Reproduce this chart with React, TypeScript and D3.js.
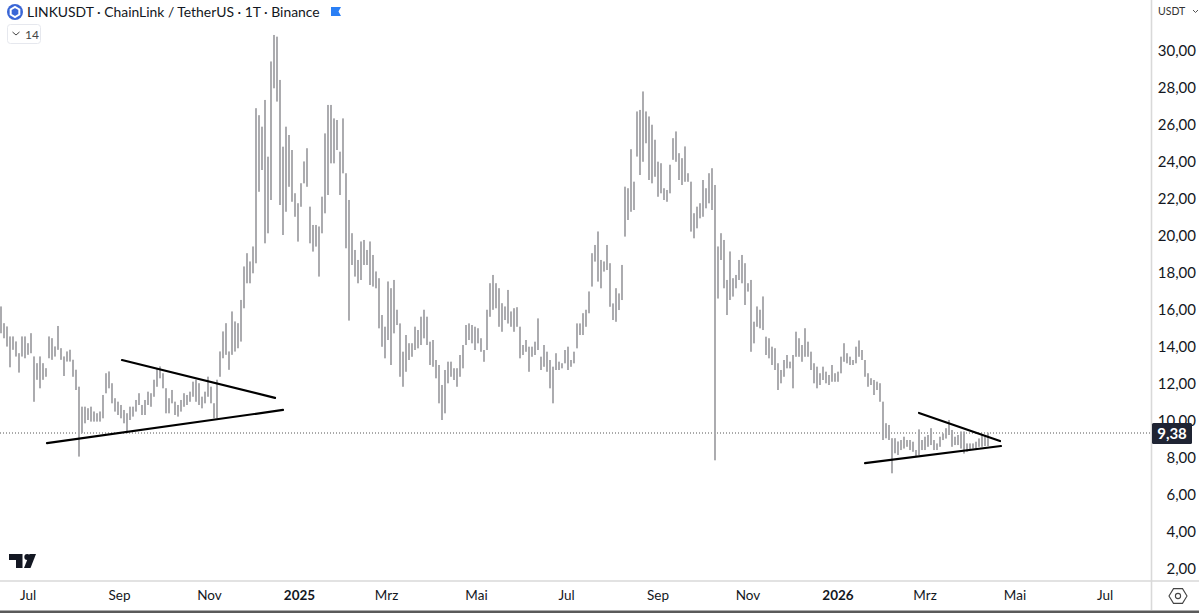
import * as d3 from 'd3'

const WIDTH = 1199
const HEIGHT = 613
const PLOT_RIGHT = 1151.5
const AXIS_TOP = 581

// daily-ish high/low pairs, oldest first
const highs = [
  16.16, 15.26, 15.08, 14.54, 14.54, 14.27, 13.64, 14.54, 14.54, 14.18, 14.72, 13.46, 13.1, 13.46, 13.1, 12.83, 14.54, 14.45, 14.0, 15.11,
  13.91, 13.46, 13.73, 13.82, 13.28, 12.74, 11.83, 10.75, 10.75, 10.66, 10.75, 10.48, 10.39, 10.48, 11.38, 12.55, 12.65, 12.01, 11.2, 11.02,
  10.84, 10.57, 10.39, 10.75, 10.75, 11.11, 11.47, 10.84, 11.11, 11.56, 11.47, 12.2, 12.83, 12.92, 12.55, 11.74, 11.2, 11.65, 11.02, 10.84,
  11.11, 11.47, 11.38, 11.56, 12.1, 12.2, 12.01, 11.29, 11.56, 12.37, 11.83, 10.93, 12.2, 13.73, 14.81, 15.26, 13.73, 15.89, 15.35, 15.26,
  16.52, 18.32, 19.04, 18.59, 19.4, 26.88, 26.5, 25.88, 27.33, 24.26, 29.4, 30.84, 30.75, 28.41, 24.8, 25.88, 25.43, 24.62, 22.28, 21.74,
  22.82, 24.0, 24.71, 21.56, 20.57, 20.57, 20.48, 22.1, 25.52, 27.06, 27.06, 26.33, 26.24, 24.53, 26.33, 23.36, 21.92, 20.12, 19.22, 18.68,
  19.67, 19.76, 19.22, 19.67, 18.95, 18.05, 17.69, 15.7, 15.07, 17.51, 17.15, 17.6, 15.98, 15.25, 13.72, 14.62, 14.17, 14.17, 15.07, 14.89,
  15.61, 15.98, 15.61, 14.26, 14.35, 13.27, 13.0, 11.92, 12.73, 13.18, 13.18, 12.82, 12.82, 13.54, 14.08, 15.16, 15.25, 15.16, 15.07, 14.98,
  14.44, 13.81, 15.98, 17.42, 17.87, 17.42, 17.15, 16.34, 16.16, 17.06, 15.89, 16.07, 16.12, 15.07, 14.08, 14.35, 13.99, 13.99, 14.26, 15.52,
  13.45, 14.08, 13.72, 13.27, 12.91, 13.63, 13.18, 13.09, 13.81, 13.99, 13.27, 13.72, 15.25, 15.25, 15.8, 15.98, 16.97, 19.04, 19.49, 20.21,
  18.68, 18.59, 19.49, 18.5, 16.33, 17.15, 16.87, 18.41, 22.64, 22.55, 24.66, 22.91, 26.7, 26.79, 27.78, 26.7, 26.43, 25.98, 25.17, 23.99,
  23.9, 22.55, 22.46, 23.82, 25.26, 25.62, 24.45, 24.18, 24.81, 23.36, 22.91, 21.2, 21.56, 21.74, 23.0, 22.55, 23.36, 23.63, 22.73, 19.4,
  20.12, 19.76, 17.6, 19.13, 17.69, 17.87, 18.68, 18.95, 18.5, 17.42, 17.6, 15.34, 16.16, 15.98, 16.7, 14.53, 14.44, 13.99, 13.9, 13.09,
  12.73, 13.27, 13.54, 13.18, 13.54, 14.8, 14.44, 14.08, 14.98, 14.26, 13.72, 13.09, 12.91, 12.55, 12.91, 12.64, 12.46, 13.0, 12.55, 12.64,
  13.45, 14.17, 13.63, 13.45, 13.27, 13.99, 14.32, 13.81, 13.27, 12.55, 12.28, 12.19, 12.1, 12.01, 11.02, 9.85, 9.76, 9.04, 9.04, 8.86,
  8.94, 9.12, 8.94, 8.94, 8.85, 8.4, 9.52, 8.94, 9.12, 9.22, 9.58, 8.94, 8.76, 9.12, 9.3, 9.58, 10.03, 9.49, 9.12, 9.22,
  9.4, 9.4, 8.76, 8.76, 8.76, 8.85, 9.03, 9.22, 9.16, 9.34,
]

const lows = [
  14.72, 14.45, 14.0, 12.88, 13.82, 13.46, 12.59, 13.46, 13.37, 13.55, 13.64, 11.02, 12.2, 11.74, 12.2, 12.37, 13.37, 13.28, 13.46, 13.82,
  13.28, 12.41, 13.19, 13.19, 12.37, 11.65, 8.05, 9.31, 9.85, 10.03, 9.94, 9.94, 9.94, 9.94, 10.12, 11.47, 11.74, 10.93, 10.48, 10.3,
  10.12, 9.85, 9.31, 10.03, 10.21, 10.48, 10.84, 10.3, 10.3, 10.84, 10.75, 11.29, 11.83, 12.28, 11.74, 10.39, 10.39, 10.93, 10.3, 10.21,
  10.48, 10.75, 10.84, 11.02, 11.29, 11.02, 10.84, 10.66, 10.93, 11.29, 10.93, 10.12, 10.12, 12.37, 13.37, 13.55, 12.74, 13.55, 13.73, 13.91,
  14.27, 16.07, 17.42, 17.42, 17.96, 18.5, 22.37, 23.54, 19.58, 20.12, 21.92, 27.96, 27.24, 21.65, 20.03, 21.29, 22.64, 21.83, 21.02, 19.67,
  21.56, 22.82, 22.64, 19.58, 19.13, 19.4, 17.78, 20.12, 21.2, 22.19, 23.9, 23.9, 24.62, 22.19, 23.36, 19.31, 15.4, 18.41, 17.78, 17.42,
  17.6, 18.41, 18.41, 17.33, 17.24, 17.15, 14.98, 13.99, 13.36, 14.35, 13.0, 14.71, 15.16, 12.37, 11.83, 12.64, 13.27, 13.45, 13.81, 13.9,
  14.08, 14.44, 14.08, 13.0, 12.91, 12.28, 10.93, 10.03, 10.39, 12.01, 12.37, 12.19, 11.83, 12.37, 12.82, 14.08, 14.35, 14.17, 13.81, 14.17,
  13.72, 13.18, 13.81, 15.61, 15.98, 16.07, 15.07, 14.8, 15.43, 15.25, 15.07, 14.8, 15.07, 13.36, 13.54, 13.72, 12.64, 13.45, 13.54, 13.81,
  12.73, 12.91, 12.64, 11.74, 10.93, 12.73, 12.73, 12.82, 13.09, 12.73, 12.91, 13.09, 13.9, 14.62, 14.62, 15.07, 15.8, 17.24, 18.59, 17.51,
  17.15, 18.05, 18.14, 16.15, 15.43, 15.34, 15.97, 16.51, 19.94, 20.84, 21.29, 21.38, 24.27, 23.27, 23.99, 24.99, 23.0, 22.82, 23.18, 22.1,
  22.28, 21.92, 21.83, 22.28, 24.09, 23.99, 23.0, 22.73, 22.91, 22.91, 20.21, 19.85, 20.39, 20.93, 21.02, 21.47, 21.74, 21.38, 7.85, 16.6,
  18.68, 17.15, 15.7, 16.52, 16.7, 17.15, 17.6, 17.42, 16.25, 16.97, 13.72, 14.17, 15.07, 14.98, 14.89, 13.54, 13.36, 13.0, 12.73, 11.65,
  12.01, 12.37, 12.82, 12.82, 11.74, 13.45, 13.45, 13.18, 13.45, 13.45, 12.73, 12.01, 11.74, 11.92, 12.19, 12.01, 11.92, 12.1, 12.1, 12.1,
  12.55, 13.18, 13.09, 13.0, 13.0, 13.09, 13.45, 13.27, 12.37, 11.83, 11.92, 11.38, 11.65, 11.02, 8.95, 9.04, 8.95, 7.15, 8.23, 8.14,
  8.4, 8.49, 8.58, 8.4, 8.31, 8.04, 8.13, 8.4, 8.4, 8.58, 8.67, 8.4, 8.4, 8.58, 8.94, 9.03, 9.22, 8.58, 8.67, 8.67,
  8.49, 8.22, 8.31, 8.4, 8.49, 8.49, 8.58, 8.58, 8.62, 8.62,
]

const lastPrice = 9.38
const priceTicks = [30, 28, 26, 24, 22, 20, 18, 16, 14, 12, 10, 8, 6, 4, 2]

const timeLabels = ['Jul', 'Sep', 'Nov', '2025', 'Mrz', 'Mai', 'Jul', 'Sep', 'Nov', '2026', 'Mrz', 'Mai', 'Jul']
const timeDates = [
  '2024-07-01', '2024-09-01', '2024-11-01', '2025-01-01', '2025-03-01', '2025-05-01', '2025-07-01',
  '2025-09-01', '2025-11-01', '2026-01-01', '2026-03-01', '2026-05-01', '2026-07-01',
]

// hand drawn trendlines: [bar index, price] at each end
const trendStarts = [[15.33, 8.78], [40.33, 13.27], [288, 7.7], [306, 10.41]]
const trendEnds = [[94, 10.57], [91.33, 11.22], [333.33, 8.62], [333, 8.89]]

const x = d3.scaleLinear().domain([0, highs.length - 1]).range([1, 988])
const y = d3.scaleLinear().domain([30, 2]).range([50.5, 568.5])
const xTime = d3.scaleUtc()
  .domain([new Date('2024-07-01'), new Date('2026-07-01')])
  .range([28, 1105])

const comma = (v: number) => v.toFixed(2).replace('.', ',')
const UI_FONT = 'Lato, "Open Sans", sans-serif'

// hexagon for the little settings button
const hex = d3.range(6).map(i => {
  const a = (Math.PI / 3) * i
  return [1178 + 9 * Math.cos(a), 596 + 8.5 * Math.sin(a)]
})
const logoHex = d3.range(6).map(i => {
  const a = (Math.PI / 3) * i + Math.PI / 6
  return [15 + 5 * Math.cos(a), 12 + 5 * Math.sin(a)]
})

export default function App() {
  return (
    <svg
      width={WIDTH}
      height={HEIGHT}
      style={{ position: 'absolute', left: 0, top: 0, background: '#fff', display: 'block' }}
      fontFamily={UI_FONT}
    >
      <defs>
        <filter id="soft" x="-2%" y="-2%" width="104%" height="104%">
          <feGaussianBlur stdDeviation="0.35" />
        </filter>
      </defs>

      {/* last price line */}
      <line x1={0} x2={PLOT_RIGHT} y1={433} y2={433} stroke="#555" strokeWidth={1} strokeDasharray="1 2" />

      {/* bars */}
      <g filter="url(#soft)">
        {highs.map((h, i) => (
          <line key={i} x1={x(i)} x2={x(i)} y1={y(h)} y2={y(lows[i])} stroke="#b6b6ba" strokeWidth={1.9} />
        ))}
        {highs.map((h, i) => (
          <line key={i} x1={x(i)} x2={x(i)} y1={y(h)} y2={y(lows[i])} stroke="#929296" strokeWidth={0.7} />
        ))}
      </g>

      {/* trendlines */}
      {trendStarts.map((s, i) => (
        <line
          key={i}
          x1={x(s[0])}
          y1={y(s[1])}
          x2={x(trendEnds[i][0])}
          y2={y(trendEnds[i][1])}
          stroke="#000"
          strokeWidth={2.2}
          strokeLinecap="round"
        />
      ))}

      {/* header */}
      <circle cx={15} cy={12} r={8} fill="#3a66d6" />
      <polygon points={logoHex.map(p => p.join(',')).join(' ')} fill="none" stroke="#fff" strokeWidth={2} />
      <text x={27} y={17} fontSize={13.9} fill="#131722">
        LINKUSDT · ChainLink / TetherUS · 1T · Binance
      </text>
      <path d="M331 7H341L338.5 11.5L341 16H331Z" fill="#2a7ff5" />
      <rect x={7.5} y={24.5} width={33} height={19} rx={3} fill="#fff" stroke="#e6e8ee" />
      <path d="M12.5 32L16 35L19.5 32" fill="none" stroke="#444" strokeWidth={1} />
      <text x={25} y={38.5} fontSize={12} fill="#444">14</text>

      {/* TradingView mark */}
      <path d="M9 554H22.5V568H16V560H9Z" fill="#131722" />
      <circle cx={27.2} cy={557} r={2.9} fill="#131722" />
      <path d="M24 568L29.5 554H36L30.5 568Z" fill="#131722" />

      {/* axes frame */}
      <line x1={PLOT_RIGHT} x2={PLOT_RIGHT} y1={0} y2={HEIGHT - 3} stroke="#d9d9d9" strokeWidth={1.6} />
      <line x1={0} x2={WIDTH} y1={AXIS_TOP} y2={AXIS_TOP} stroke="#d9d9d9" strokeWidth={1.4} />
      <rect x={0} y={HEIGHT - 2.5} width={WIDTH} height={2.5} fill="#5a5a5a" />

      {/* price axis */}
      <text x={1158} y={15} fontSize={10.5} fill="#333">USDT</text>
      <path d="M1193 10L1195.5 12.5L1198 10" fill="none" stroke="#555" strokeWidth={1} />
      {priceTicks.map(t => (
        <text key={t} x={1196} y={y(t)} dy="0.36em" textAnchor="end" fontSize={15} fill="#131722">
          {comma(t)}
        </text>
      ))}
      <rect x={1152} y={423} width={40} height={21} rx={1.5} fill="#1f2433" />
      <text x={1172} y={433.5} dy="0.36em" textAnchor="middle" fontSize={15} fontWeight={700} fill="#fff">
        {comma(lastPrice)}
      </text>

      {/* time axis */}
      {timeLabels.map((label, i) => (
        <text
          key={i}
          x={xTime(new Date(timeDates[i]))}
          y={595}
          dy="0.36em"
          textAnchor="middle"
          fontSize={13.5}
          fontWeight={label.length === 4 ? 700 : 400}
          fill="#131722"
        >
          {label}
        </text>
      ))}

      {/* settings */}
      <polygon points={hex.map(p => p.join(',')).join(' ')} fill="none" stroke="#444" strokeWidth={1.1} />
      <circle cx={1178} cy={596} r={2.6} fill="none" stroke="#444" strokeWidth={1.1} />
    </svg>
  )
}
